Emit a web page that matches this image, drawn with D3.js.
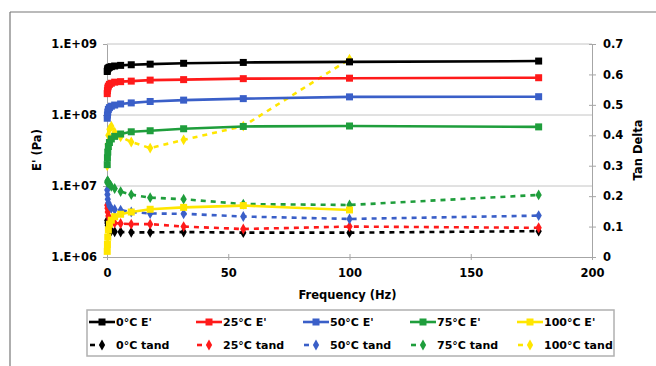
<!DOCTYPE html>
<html lang="en">
<head>
  <meta charset="UTF-8">
  <title>E' and Tan Delta vs Frequency</title>
  <script src="https://d3js.org/d3.v7.min.js"></script>
  <style>
    body { margin: 0; background: #fff; }
    text { font-family: "DejaVu Sans", Verdana, sans-serif; font-weight: bold; }
  </style>
</head>
<body>
<div id="chart-container"></div>
<script>
// Frequency sweep (Hz)
const freq = [0.1, 0.178, 0.316, 0.562, 1, 1.78, 3.16, 5.62, 10, 17.8, 31.6, 56.2, 100, 178];
const temps = ["0°C", "25°C", "50°C", "75°C", "100°C"];
const colors = ["#000000", "#ff1a1a", "#3a5fc8", "#1f9e3c", "#ffe600"];

// Storage modulus E' (Pa)
const e0   = [4.1e8, 4.3e8, 4.5e8, 4.6e8, 4.7e8, 4.8e8, 4.9e8, 5.0e8, 5.1e8, 5.2e8, 5.35e8, 5.5e8, 5.6e8, 5.75e8];
const e25  = [2.0e8, 2.2e8, 2.4e8, 2.55e8, 2.7e8, 2.8e8, 2.9e8, 2.95e8, 3.0e8, 3.1e8, 3.15e8, 3.25e8, 3.3e8, 3.35e8];
const e50  = [9.0e7, 1.0e8, 1.1e8, 1.2e8, 1.27e8, 1.33e8, 1.38e8, 1.43e8, 1.48e8, 1.55e8, 1.62e8, 1.7e8, 1.8e8, 1.81e8];
const e75  = [2.0e7, 2.5e7, 3.0e7, 3.6e7, 4.1e7, 4.6e7, 5.0e7, 5.4e7, 5.8e7, 6.0e7, 6.4e7, 6.9e7, 7.0e7, 6.8e7];
const e100 = [1.2e6, 1.5e6, 1.9e6, 2.4e6, 2.9e6, 3.3e6, 3.7e6, 4.0e6, 4.3e6, 4.7e6, 5.0e6, 5.3e6, 4.6e6];

// Tan delta
const t0   = [0.12, 0.112, 0.104, 0.096, 0.09, 0.086, 0.083, 0.082, 0.081, 0.081, 0.082, 0.08, 0.08, 0.085];
const t25  = [0.17, 0.16, 0.148, 0.135, 0.125, 0.118, 0.112, 0.11, 0.108, 0.108, 0.10, 0.092, 0.10, 0.096];
const t50  = [0.22, 0.205, 0.19, 0.178, 0.168, 0.16, 0.156, 0.154, 0.148, 0.143, 0.142, 0.133, 0.125, 0.136];
const t75  = [0.245, 0.25, 0.25, 0.245, 0.24, 0.232, 0.225, 0.215, 0.205, 0.195, 0.19, 0.174, 0.171, 0.204];
const t100 = [0.30, 0.33, 0.37, 0.40, 0.42, 0.43, 0.41, 0.395, 0.378, 0.358, 0.385, 0.43, 0.65];

const eSeries = [e0, e25, e50, e75, e100];
const tSeries = [t0, t25, t50, t75, t100];

const xTicks = [0, 50, 100, 150, 200];
const yLeftTicks = [1e6, 1e7, 1e8, 1e9];
const yRightTicks = [0, 0.1, 0.2, 0.3, 0.4, 0.5, 0.6, 0.7];

const width = 656, height = 366;
const plotL = 107, plotR = 592, plotT = 44, plotB = 257;

const svg = d3.select("#chart-container")
  .append("svg")
  .attr("width", width)
  .attr("height", height);

// outer frame
svg.append("line").attr("x1", 10).attr("x2", width).attr("y1", 12).attr("y2", 12)
  .attr("stroke", "#777").attr("stroke-width", 1.2);
svg.append("line").attr("x1", 10).attr("x2", 10).attr("y1", 12).attr("y2", height)
  .attr("stroke", "#777").attr("stroke-width", 1.2);

const x = d3.scaleLinear().domain([0, 200]).range([plotL, plotR]);
const yL = d3.scaleLog().domain([1e6, 1e9]).range([plotB, plotT]);
const yR = d3.scaleLinear().domain([0, 0.7]).range([plotB, plotT]);

// gridlines
svg.append("g").selectAll("line")
  .data([1e7, 1e8, 1e9])
  .enter().append("line")
  .attr("x1", plotL).attr("x2", plotR)
  .attr("y1", d => yL(d)).attr("y2", d => yL(d))
  .attr("stroke", "#c4c4c4").attr("stroke-width", 1);

// axes
const axisColor = "#a6a6a6";
function styleAxis(g) {
  g.attr("font-family", null).attr("font-size", null);
  g.select(".domain").attr("stroke", axisColor);
  g.selectAll(".tick line").attr("stroke", axisColor);
  g.selectAll(".tick text").attr("fill", "#000").style("font-size", "11.5px");
}

const gx = svg.append("g")
  .attr("transform", `translate(0,${plotB})`)
  .call(d3.axisBottom(x).tickValues(xTicks).tickSize(3).tickPadding(9).tickSizeOuter(0));
styleAxis(gx);
gx.selectAll(".tick line").attr("y1", -3);

const gyl = svg.append("g")
  .attr("transform", `translate(${plotL},0)`)
  .call(d3.axisLeft(yL).tickValues(yLeftTicks).tickSize(4).tickPadding(6).tickSizeOuter(0)
    .tickFormat(d => "1.E+" + String(Math.round(Math.log10(d))).padStart(2, "0")));
styleAxis(gyl);

const gyr = svg.append("g")
  .attr("transform", `translate(${plotR},0)`)
  .call(d3.axisRight(yR).tickValues(yRightTicks).tickSize(4).tickPadding(7).tickSizeOuter(0)
    .tickFormat(d3.format("")));
styleAxis(gyr);
gyr.selectAll(".tick line").attr("x1", -3);

// axis titles
svg.append("text").attr("x", (plotL + plotR) / 2 - 2).attr("y", 299)
  .attr("text-anchor", "middle").style("font-size", "11.5px").text("Frequency (Hz)");
svg.append("text").attr("transform", "translate(41,150) rotate(-90)")
  .attr("text-anchor", "middle").style("font-size", "11.5px").text("E' (Pa)");
svg.append("text").attr("transform", "translate(642,150) rotate(-90)")
  .attr("text-anchor", "middle").style("font-size", "11.5px").text("Tan Delta");

const lineE = d3.line().x((d, i) => x(freq[i])).y(d => yL(d));
const lineT = d3.line().x((d, i) => x(freq[i])).y(d => yR(d));
const diamond = d3.symbol().type(d3.symbolDiamond).size(34);

// tan delta series (dashed with diamonds)
tSeries.forEach((s, k) => {
  const g = svg.append("g");
  g.append("path").datum(s).attr("d", lineT)
    .attr("fill", "none").attr("stroke", colors[k]).attr("stroke-width", 2.6)
    .attr("stroke-dasharray", "5,5");
  g.selectAll("path.m").data(s).enter().append("path").attr("class", "m")
    .attr("d", diamond)
    .attr("transform", (d, i) => `translate(${x(freq[i])},${yR(d)})`)
    .attr("fill", colors[k]);
});

// E' series (solid with squares)
eSeries.forEach((s, k) => {
  const g = svg.append("g");
  g.append("path").datum(s).attr("d", lineE)
    .attr("fill", "none").attr("stroke", colors[k]).attr("stroke-width", 2.6);
  g.selectAll("rect").data(s).enter().append("rect")
    .attr("x", (d, i) => x(freq[i]) - 3.5).attr("y", d => yL(d) - 3.5)
    .attr("width", 7).attr("height", 7)
    .attr("fill", colors[k]);
});

// legend
const lg = svg.append("g");
lg.append("rect").attr("x", 87).attr("y", 310).attr("width", 527).attr("height", 46)
  .attr("fill", "#fff").attr("stroke", "#b0b0b0").attr("stroke-width", 1.5);
temps.forEach((t, k) => {
  const cx = 89 + k * 107;
  // E' row
  lg.append("line").attr("x1", cx).attr("x2", cx + 26).attr("y1", 322).attr("y2", 322)
    .attr("stroke", colors[k]).attr("stroke-width", 2.6);
  lg.append("rect").attr("x", cx + 9.5).attr("y", 318.5).attr("width", 7).attr("height", 7)
    .attr("fill", colors[k]);
  lg.append("text").attr("x", cx + 27).attr("y", 326).style("font-size", "11px").text(t + " E'");
  // tand row
  lg.append("line").attr("x1", cx + 1).attr("x2", cx + 6).attr("y1", 345).attr("y2", 345)
    .attr("stroke", colors[k]).attr("stroke-width", 2.6);
  lg.append("path").attr("d", diamond).attr("transform", `translate(${cx + 13},345)`)
    .attr("fill", colors[k]);
  lg.append("text").attr("x", cx + 27).attr("y", 349).style("font-size", "11px").text(t + " tand");
});
</script>
</body>
</html>
